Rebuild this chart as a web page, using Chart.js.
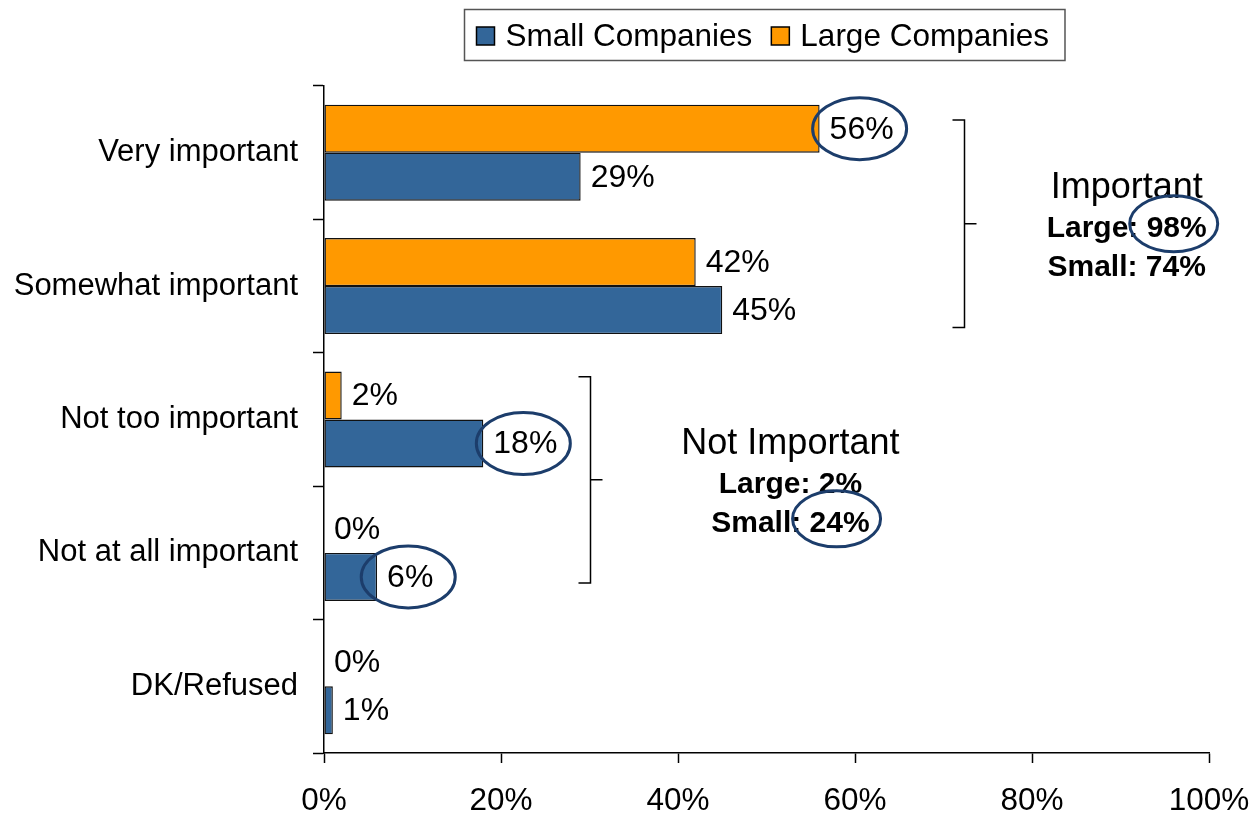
<!DOCTYPE html>
<html>
<head>
<meta charset="utf-8">
<title>Importance by company size</title>
<style>
  html, body { margin: 0; padding: 0; background: #ffffff; }
  #wrap { width: 1251px; height: 814px; }
</style>
<script src="https://cdn.jsdelivr.net/npm/chart.js@4/dist/chart.umd.min.js"></script>
</head>
<body>
<div id="wrap"><canvas id="chart" width="1251" height="814"></canvas></div>
<script>
// ---- data ----
const categories = ['Very important', 'Somewhat important', 'Not too important', 'Not at all important', 'DK/Refused'];
const largeCompanies = [56, 42, 2, 0, 0];
const smallCompanies = [29, 45, 18, 6, 1];
const xTickValues = [0, 20, 40, 60, 80, 100];
const seriesNames = { small: 'Small Companies', large: 'Large Companies' };

// value labels that get an ellipse drawn round them: [series, category index]
const circledLabels = [['large', 0], ['small', 2], ['small', 3]];

// summary groups shown beside the bars
const groupNames = ['Important', 'Not Important'];
const groupFirstCategory = [0, 2];
const groupLastCategory = [1, 3];
const groupLarge = [98, 2];
const groupSmall = [74, 24];
const groupCircled = ['large', 'small'];

// ---- styling ----
const FONT = '"Liberation Sans", Arial, Helvetica, sans-serif';
const NAVY = '#1c3d6b';
const COLORS = { small: '#336699', large: '#FF9900' };

// placement of the summary brackets/text (x in axis percent, y in category units)
const summaryLayout = {
  bracketX: [72.3, 30.1],
  textX: [90.7, 52.7],
  topOffset: [-0.245, -0.32],
  bottomOffset: [0.31, 0.225]
};

function strokeEllipse(ctx, cx, cy, rx, ry) {
  ctx.save();
  ctx.beginPath();
  ctx.ellipse(cx, cy, rx, ry, 0, 0, Math.PI * 2);
  ctx.lineWidth = 3;
  ctx.strokeStyle = NAVY;
  ctx.stroke();
  ctx.restore();
}

// percent labels at the end of every bar
const valueLabels = {
  id: 'valueLabels',
  afterDatasetsDraw(chart) {
    const ctx = chart.ctx;
    ctx.save();
    ctx.font = '32px ' + FONT;
    ctx.fillStyle = '#000';
    ctx.textAlign = 'left';
    ctx.textBaseline = 'middle';
    chart.data.datasets.forEach((ds, di) => {
      const meta = chart.getDatasetMeta(di);
      meta.data.forEach((bar, i) => {
        const txt = ds.data[i] + '%';
        const x = bar.x + 10;
        const y = bar.y + 1;
        ctx.fillText(txt, x, y);
        if (circledLabels.some(([k, idx]) => k === ds.key && idx === i)) {
          const w = ctx.measureText(txt).width;
          strokeEllipse(ctx, x + w / 2 - 2, bar.y, 47, 31);
        }
      });
    });
    ctx.restore();
  }
};

// brackets with the combined totals
const groupSummaries = {
  id: 'groupSummaries',
  afterDatasetsDraw(chart) {
    const ctx = chart.ctx;
    const xs = chart.scales.x, ys = chart.scales.y;
    ctx.save();
    groupNames.forEach((name, g) => {
      const bx = Math.round(xs.getPixelForValue(summaryLayout.bracketX[g])) + 0.5;
      const top = ys.getPixelForValue(groupFirstCategory[g] + summaryLayout.topOffset[g]);
      const bottom = ys.getPixelForValue(groupLastCategory[g] + summaryLayout.bottomOffset[g]);
      const mid = (top + bottom) / 2;
      ctx.strokeStyle = '#000';
      ctx.lineWidth = 1.5;
      ctx.beginPath();
      ctx.moveTo(bx - 12, top); ctx.lineTo(bx, top);
      ctx.lineTo(bx, bottom); ctx.lineTo(bx - 12, bottom);
      ctx.moveTo(bx, mid); ctx.lineTo(bx + 12, mid);
      ctx.stroke();

      const cx = xs.getPixelForValue(summaryLayout.textX[g]);
      ctx.fillStyle = '#000';
      ctx.textAlign = 'center';
      ctx.textBaseline = 'alphabetic';
      ctx.font = '36px ' + FONT;
      ctx.fillText(name, cx, mid - 26);

      ctx.font = 'bold 30px ' + FONT;
      const lines = [
        { key: 'large', label: 'Large: ', value: groupLarge[g] + '%', y: mid + 13 },
        { key: 'small', label: 'Small: ', value: groupSmall[g] + '%', y: mid + 52 }
      ];
      lines.forEach(line => {
        const full = line.label + line.value;
        ctx.fillText(full, cx, line.y);
        if (groupCircled[g] === line.key) {
          const W = ctx.measureText(full).width;
          const v = ctx.measureText(line.value).width;
          strokeEllipse(ctx, cx + W / 2 - v / 2 - 3, line.y - 13, 44, 28);
        }
      });
    });
    ctx.restore();
  }
};

// boxed legend centred over the plot area
const boxedLegend = {
  id: 'boxedLegend',
  afterDraw(chart) {
    const ctx = chart.ctx;
    const area = chart.chartArea;
    const order = ['small', 'large'];
    ctx.save();
    ctx.font = '31.5px ' + FONT;
    const sq = 18, gapText = 11, gapItem = 19, padL = 12, padR = 16;
    const widths = order.map(k => ctx.measureText(seriesNames[k]).width);
    const total = padL + order.length * (sq + gapText) + widths.reduce((a, b) => a + b, 0) + gapItem * (order.length - 1) + padR;
    const left = Math.round((area.left + area.right) / 2 - total / 2 - 2) + 0.5;
    const top = 9.5, h = 51;
    ctx.strokeStyle = '#555';
    ctx.lineWidth = 1.5;
    ctx.strokeRect(left, top, total, h);
    let x = left + padL;
    order.forEach((k, i) => {
      ctx.fillStyle = COLORS[k];
      ctx.fillRect(x, 27, sq, sq);
      ctx.strokeStyle = '#000';
      ctx.lineWidth = 1.5;
      ctx.strokeRect(x, 27, sq, sq);
      x += sq + gapText;
      ctx.fillStyle = '#000';
      ctx.textAlign = 'left';
      ctx.textBaseline = 'alphabetic';
      ctx.fillText(seriesNames[k], x, 46);
      x += widths[i] + gapItem;
    });
    ctx.restore();
  }
};

new Chart(document.getElementById('chart'), {
  type: 'bar',
  data: {
    labels: categories,
    datasets: [
      { key: 'large', label: seriesNames.large, data: largeCompanies, backgroundColor: COLORS.large },
      { key: 'small', label: seriesNames.small, data: smallCompanies, backgroundColor: COLORS.small }
    ]
  },
  options: {
    indexAxis: 'y',
    responsive: false,
    animation: false,
    devicePixelRatio: 1,
    layout: { padding: { top: 86, right: 42, bottom: 0, left: 0 } },
    datasets: {
      bar: {
        categoryPercentage: 0.72,
        barPercentage: 1.0,
        borderColor: '#111',
        borderWidth: 1.4,
        borderSkipped: false
      }
    },
    plugins: {
      legend: { display: false },
      tooltip: { enabled: false }
    },
    scales: {
      x: {
        type: 'linear',
        min: 0,
        max: 100,
        afterBuildTicks(scale) { scale.ticks = xTickValues.map(v => ({ value: v })); },
        afterFit(scale) { scale.height = 61; scale.paddingLeft = 0; scale.paddingRight = 0; },
        ticks: {
          color: '#000',
          font: { family: FONT, size: 31.5 },
          padding: 19,
          maxRotation: 0,
          callback: v => v + '%'
        },
        grid: { drawOnChartArea: false, drawTicks: true, tickLength: 10, tickColor: '#000', tickWidth: 1.5 },
        border: { display: true, color: '#000', width: 1.5 }
      },
      y: {
        type: 'category',
        offset: true,
        afterFit(scale) { scale.width = 324; scale.paddingTop = 0; scale.paddingBottom = 0; },
        ticks: {
          color: '#000',
          font: { family: FONT, size: 31 },
          padding: 15
        },
        grid: { offset: true, drawOnChartArea: false, drawTicks: true, tickLength: 11, tickColor: '#000', tickWidth: 1.5 },
        border: { display: true, color: '#000', width: 1.5 }
      }
    }
  },
  plugins: [valueLabels, groupSummaries, boxedLegend]
});
</script>
</body>
</html>
